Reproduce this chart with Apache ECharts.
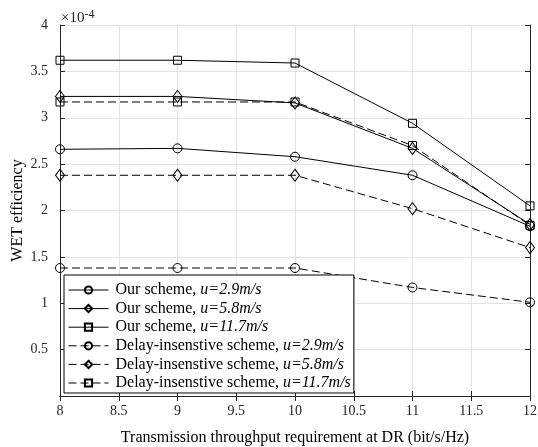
<!DOCTYPE html>
<html>
<head>
<meta charset="utf-8">
<script src="https://cdn.jsdelivr.net/npm/echarts@6/dist/echarts.min.js"></script>
<style>
  html, body { margin: 0; padding: 0; background: #fff; }
  #main { width: 538px; height: 447px; }
</style>
</head>
<body>
<div id="main"></div>
<script>
// throughput requirement (bit/s/Hz)
var rates = [8, 9, 10, 11, 12];
// WET efficiency, in units of 1e-4
var ourU29 = [2.66, 2.67, 2.58, 2.38, 1.83];
var ourU58 = [3.23, 3.23, 3.16, 2.67, 1.85];
var ourU117 = [3.62, 3.62, 3.59, 2.94, 2.05];
var delayU29 = [1.38, 1.38, 1.38, 1.17, 1.01];
var delayU58 = [2.38, 2.38, 2.38, 2.02, 1.60];
var delayU117 = [3.17, 3.17, 3.17, 2.70, 1.84];

var seriesNames = [
    'Our scheme, {i|u=2.9m/s}',
    'Our scheme, {i|u=5.8m/s}',
    'Our scheme, {i|u=11.7m/s}',
    'Delay-insenstive scheme, {i|u=2.9m/s}',
    'Delay-insenstive scheme, {i|u=5.8m/s}',
    'Delay-insenstive scheme, {i|u=11.7m/s}'
];

var font = 'Liberation Serif';
var axisCol = '#262626';

function pairs(ys) {
    return rates.map(function (x, i) { return [x, ys[i]]; });
}

function makeSeries(name, ys, symbol, size, dashed) {
    return {
        name: name,
        type: 'line',
        data: pairs(ys),
        symbol: symbol,
        symbolSize: size,
        showAllSymbol: true,
        lineStyle: { color: '#000', width: 1, type: dashed ? [8, 4] : 'solid' },
        itemStyle: { color: 'rgba(255,255,255,0)', borderColor: '#000', borderWidth: 1 },
        emphasis: { disabled: true },
        animation: false
    };
}

var myChart = echarts.init(document.getElementById('main'));
var option = {
    backgroundColor: '#fff',
    animation: false,
    grid: { left: 60, right: 8, top: 25, bottom: 51, containLabel: false, outerBoundsMode: 'none' },
    legend: {
        orient: 'vertical',
        left: 64,
        top: 275,
        padding: [7, 3, 2, 4],
        itemWidth: 40,
        itemHeight: 9,
        itemGap: 2.6,
        backgroundColor: '#fff',
        borderColor: '#000',
        borderWidth: 1,
        borderRadius: 0,
        lineStyle: { width: 1 },
        data: seriesNames,
        textStyle: {
            fontFamily: font, fontSize: 16, color: '#000', padding: [0, 0, 0, 2],
            rich: { i: { fontFamily: font, fontSize: 16, fontStyle: 'italic', color: '#000' } }
        }
    },
    xAxis: [{
        type: 'value',
        min: 8, max: 12, interval: 0.5,
        name: 'Transmission throughput requirement at DR (bit/s/Hz)',
        nameLocation: 'middle',
        nameGap: 34,
        nameMoveOverlap: false,
        nameTextStyle: { fontFamily: font, fontSize: 16, color: '#000' },
        axisLine: { show: true, lineStyle: { color: axisCol, width: 1 } },
        axisTick: { inside: true, length: 5, lineStyle: { color: axisCol } },
        axisLabel: { fontFamily: font, fontSize: 14, color: '#262626', margin: 8 },
        splitLine: { show: true, lineStyle: { color: '#e3e3e3', width: 1 } }
    }, {
        type: 'value', position: 'top',
        min: 8, max: 12, interval: 0.5,
        axisLine: { show: true, lineStyle: { color: axisCol, width: 1 } },
        axisTick: { inside: true, length: 5, lineStyle: { color: axisCol } },
        axisLabel: { show: false },
        splitLine: { show: false }
    }],
    yAxis: [{
        type: 'value',
        min: 0, max: 4, interval: 0.5,
        name: 'WET efficiency',
        nameLocation: 'middle',
        nameGap: 34,
        nameMoveOverlap: false,
        nameTextStyle: { fontFamily: font, fontSize: 16, color: '#000' },
        axisLine: { show: true, lineStyle: { color: axisCol, width: 1 } },
        axisTick: { inside: true, length: 5, lineStyle: { color: axisCol } },
        axisLabel: {
            fontFamily: font, fontSize: 14, color: '#262626', margin: 12,
            formatter: function (v) { return v === 0 ? '' : String(v); }
        },
        splitLine: { show: true, lineStyle: { color: '#e3e3e3', width: 1 } }
    }, {
        type: 'value', position: 'right',
        min: 0, max: 4, interval: 0.5,
        axisLine: { show: true, lineStyle: { color: axisCol, width: 1 } },
        axisTick: { inside: true, length: 5, lineStyle: { color: axisCol } },
        axisLabel: { show: false },
        splitLine: { show: false }
    }],
    graphic: [{
        type: 'text',
        left: 61,
        top: 9,
        style: {
            text: '×10{s|-4}',
            fontFamily: font,
            fontSize: 15,
            fill: '#262626',
            rich: { s: { fontFamily: font, fontSize: 12, verticalAlign: 'top', padding: [0, 0, 7, 0] } }
        }
    }],
    series: [
        makeSeries(seriesNames[0], ourU29, 'circle', 9, false),
        makeSeries(seriesNames[1], ourU58, 'diamond', [9, 12], false),
        makeSeries(seriesNames[2], ourU117, 'rect', 8, false),
        makeSeries(seriesNames[3], delayU29, 'circle', 9, true),
        makeSeries(seriesNames[4], delayU58, 'diamond', [9, 12], true),
        makeSeries(seriesNames[5], delayU117, 'rect', 8, true)
    ]
};
myChart.setOption(option);
</script>
</body>
</html>
